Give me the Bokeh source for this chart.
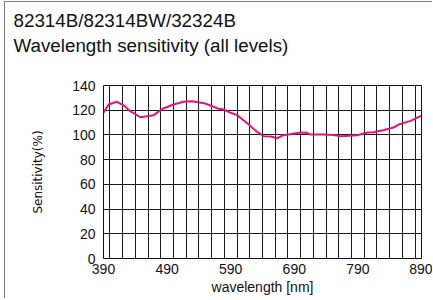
import math
from bokeh.plotting import figure
from bokeh.models import SingleIntervalTicker, FixedTicker
from bokeh.embed import file_html
from bokeh.resources import INLINE

title_line1 = "82314B/82314BW/32324B"
title_line2 = "Wavelength sensitivity (all levels)"
x_label = "wavelength [nm]"
y_label = "Sensitivity(%)"

x_ticks = [390, 490, 590, 690, 790, 890]
y_ticks = [0, 20, 40, 60, 80, 100, 120, 140]

wavelength = [390, 398, 411, 422, 432, 448, 461, 469, 482, 500, 516, 529, 548, 558,
              571, 579, 590, 600, 616, 632, 642, 653, 663, 671, 700, 710, 715, 736,
              752, 763, 789, 805, 815, 831, 846, 854, 873, 890]
sensitivity = [118, 124.6, 126.8, 123.8, 119.2, 114.3, 115.4, 116, 121, 124.6, 126.8,
               127.3, 125.7, 123.8, 121.1, 120.6, 117.9, 116, 109.5, 102.2, 99, 98.7,
               97.3, 99.5, 102, 101.7, 100.3, 100.3, 100, 99, 99.8, 102, 102.2, 104,
               106, 108.4, 111.4, 115.7]

W, H = 428, 297
p = figure(width=W, height=H, x_range=(390, 890), y_range=(0, 140),
           output_backend="svg", toolbar_location=None,
           min_border_left=98, min_border_right=12, min_border_top=83, min_border_bottom=41,
           styles={"margin-left": "4px", "margin-top": "1px",
                   "border-left": "1px solid #7a7a7a", "border-top": "1px solid #7a7a7a"})

p.outline_line_color = "#111111"
p.outline_line_width = 1
p.background_fill_color = "white"
p.border_fill_color = "white"

p.xgrid.ticker = SingleIntervalTicker(interval=20)
p.ygrid.ticker = SingleIntervalTicker(interval=20)
for g in (p.xgrid, p.ygrid):
    g.grid_line_color = "#1a1a1a"
    g.grid_line_width = 1
    g.grid_line_alpha = 1.0

p.xaxis.ticker = FixedTicker(ticks=x_ticks)
p.yaxis.ticker = FixedTicker(ticks=y_ticks)
for ax in (p.xaxis, p.yaxis):
    ax.axis_line_color = None
    ax.major_tick_line_color = None
    ax.minor_tick_line_color = None
    ax.major_tick_out = 0
    ax.major_tick_in = 0
    ax.minor_tick_out = 0
    ax.major_label_text_font = "Liberation Sans"
    ax.major_label_text_font_size = "14px"
    ax.major_label_text_color = "#111111"
p.yaxis.major_label_standoff = 8
p.xaxis.major_label_standoff = 5
p.xaxis.axis_label = x_label
p.xaxis.axis_label_text_font = "Liberation Sans"
p.xaxis.axis_label_text_font_size = "14px"
p.xaxis.axis_label_text_font_style = "normal"
p.xaxis.axis_label_text_color = "#111111"
p.xaxis.axis_label_standoff = 2

p.yaxis.axis_label = y_label
p.yaxis.axis_label_text_font = "DejaVu Sans"
p.yaxis.axis_label_text_font_size = "12px"
p.yaxis.axis_label_text_font_style = "normal"
p.yaxis.axis_label_text_color = "#111111"
p.yaxis.axis_label_standoff = 24

p.line(wavelength, sensitivity, line_color="#e5137f", line_width=2)

p.title.text = title_line1 + "\n" + title_line2 + "\n\u00a0"
p.title.align = "left"
p.title.offset = -90
p.title.standoff = 9
p.title.text_font = "Liberation Sans"
p.title.text_font_size = "18.8px"
p.title.text_font_style = "normal"
p.title.text_line_height = 1.2
p.title.text_color = "#111111"

open("out.html", "w").write(file_html(p, INLINE))
